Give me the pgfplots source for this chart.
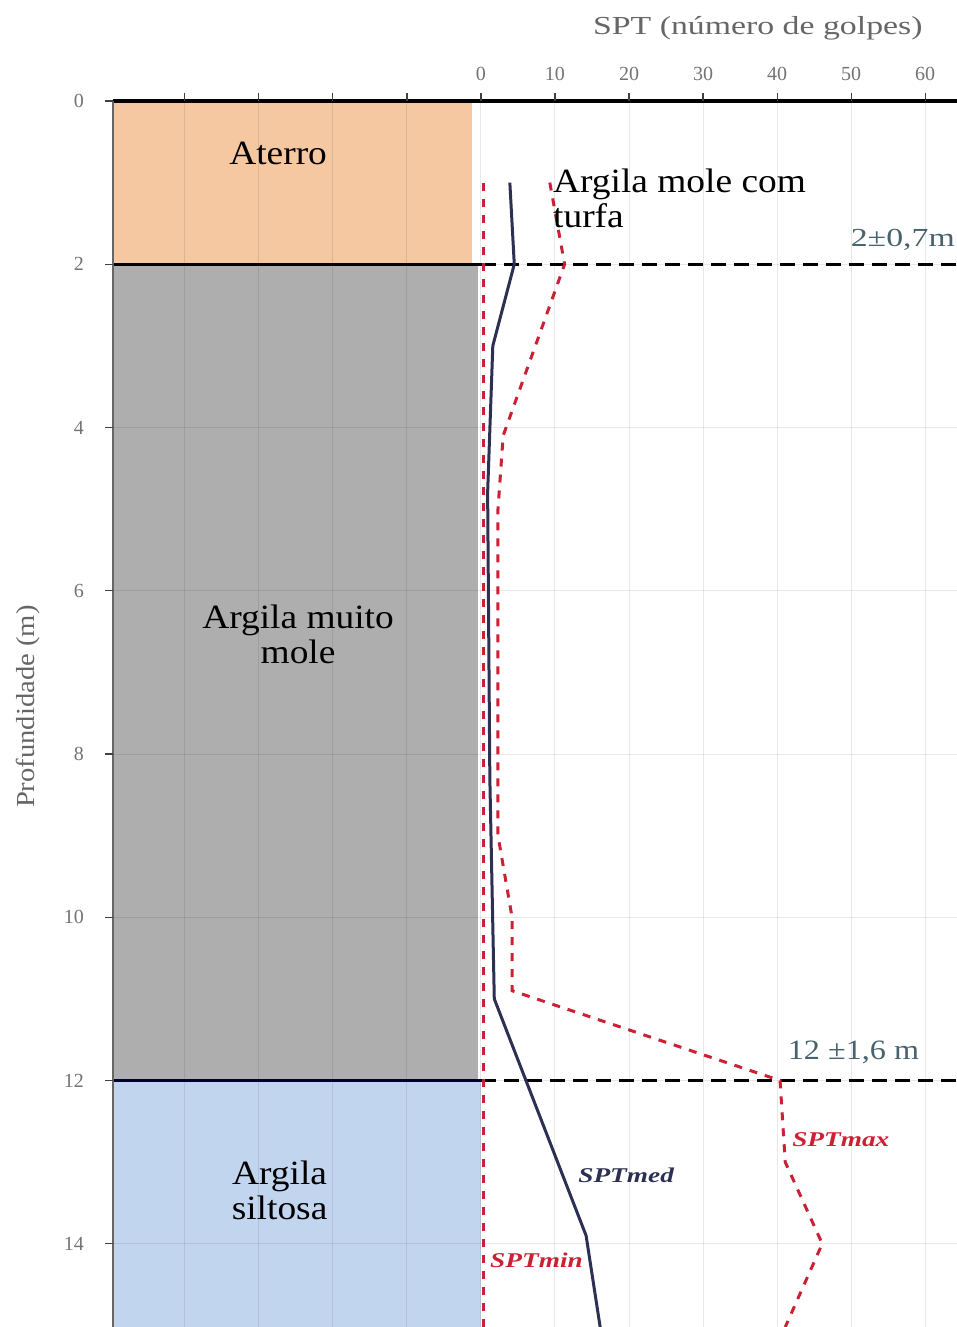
\documentclass[border=0pt]{standalone}
\usepackage{fontspec}
\setmainfont{Liberation Serif}
\newfontfamily\wide[FakeStretch=1.1]{Liberation Serif}
\newfontfamily\midwide[FakeStretch=1.15]{Liberation Serif}
\newfontfamily\wider[FakeStretch=1.3]{Liberation Serif}
\usepackage{pgfplots}
\pgfplotsset{compat=1.18}
\definecolor{peach}{RGB}{245,200,162}
\definecolor{claygray}{RGB}{174,174,174}
\definecolor{siltblue}{RGB}{194,213,238}
\definecolor{sptred}{RGB}{204,32,52}
\definecolor{sptnavy}{RGB}{44,48,82}
\definecolor{annot}{RGB}{72,98,110}
\begin{document}
\begin{tikzpicture}
\begin{axis}[
  at={(0pt,0pt)}, anchor=south west,
  width=422pt, height=613pt, scale only axis,
  xmin=-49.7, xmax=64.3, ymin=0, ymax=15.02, y dir=reverse,
  axis line style={draw=none},
  xtick={-40,-30,...,60}, xticklabels={,,,,0,10,20,30,40,50,60},
  ytick={0,2,...,14},
  xtick pos=upper, xticklabel pos=upper, ytick pos=left,
  tick align=outside, major tick length=4pt,
  tick style={black!75, line width=0.6pt},
  tick label style={font=\fontsize{10}{12}\selectfont, text=black!55},
  xticklabel style={yshift=2.5pt},
  yticklabel style={xshift=-7pt},
  /pgf/number format/assume math mode=true,
  grid=major, major grid style={draw=black, draw opacity=0.09, line width=0.5pt},
  axis on top,
  clip mode=individual,
]
% soil layers
\addplot[fill=peach, draw=none] coordinates {(-49.7,0) (-1.2,0) (-1.2,2) (-49.7,2)} -- cycle;
\addplot[fill=claygray, draw=none] coordinates {(-49.7,2) (-0.4,2) (-0.4,12) (-49.7,12)} -- cycle;
\addplot[fill=siltblue, draw=none] coordinates {(-49.7,12) (0,12) (0,15.02) (-49.7,15.02)} -- cycle;
% layer boundaries
\addplot[black, line width=1.5pt] coordinates {(-49.7,2) (0,2)};
\addplot[black!80!blue, line width=1.5pt] coordinates {(-49.7,12) (0,12)};
\addplot[black, line width=1.5pt, dash pattern=on 7.5pt off 4pt] coordinates {(0,2) (64.3,2)};
\addplot[black, line width=1.5pt, dash pattern=on 7.5pt off 4pt] coordinates {(0,12) (64.3,12)};
% SPT curves
\addplot[sptred, line width=1.5pt, dash pattern=on 4pt off 4pt] coordinates {(0.3,1) (0.3,15.02)};
\addplot[sptnavy, line width=1.5pt] coordinates {
  (3.9,1) (4.5,2) (1.6,3.0) (0.9,4.8) (1.2,8.3) (1.8,11) (14.2,13.9) (16.1,15.02)};
\addplot[sptred, line width=1.5pt, dash pattern=on 4pt off 4pt] coordinates {
  (9.3,1) (11.3,2) (3.0,4.1) (2.3,5) (2.3,9) (4.2,10) (4.2,10.9) (40.4,12) (41.1,13) (46.1,14) (41.1,15.02)};
% axis lines
\draw[black, line width=2pt] (axis cs:-49.7,0) -- (axis cs:64.3,0);
\draw[black!60, line width=0.8pt] (axis cs:-49.7,0) -- (axis cs:-49.7,15.02);
% labels
\node[font=\wider\fontsize{13}{15}\selectfont, text=black!60] at (axis cs:37.4,-0.894) {SPT (número de golpes)};
\node[font=\wide\fontsize{13}{15}\selectfont, text=black!60, rotate=90] at (axis cs:-61.2,7.42) {Profundidade (m)};
\node[font=\wide\fontsize{17}{17.5}\selectfont, align=center] at (axis cs:-27.4,0.64) {Aterro};
\node[font=\wide\fontsize{17}{17.5}\selectfont, align=center] at (axis cs:-24.7,6.54) {Argila muito\\mole};
\node[font=\wide\fontsize{17}{17.5}\selectfont, align=center] at (axis cs:-27.2,13.34) {Argila\\siltosa};
\node[font=\wide\fontsize{17}{17.5}\selectfont, align=left, anchor=west, inner sep=0pt] at (axis cs:9.7,1.19) {Argila mole com\\turfa};
\node[font=\wider\fontsize{13}{15}\selectfont, text=annot, anchor=west, inner sep=0pt] at (axis cs:49.9,1.70) {2±0,7m};
\node[font=\midwide\fontsize{14}{16}\selectfont, text=annot, anchor=west, inner sep=0pt] at (axis cs:41.4,11.65) {12 ±1,6 m};
\node[font=\wider\fontsize{10.5}{12}\selectfont\bfseries\itshape, text=sptred, anchor=west, inner sep=0pt] at (axis cs:42.0,12.73) {SPTmax};
\node[font=\wider\fontsize{10.5}{12}\selectfont\bfseries\itshape, text=sptnavy, anchor=west, inner sep=0pt] at (axis cs:13.1,13.16) {SPTmed};
\node[font=\wider\fontsize{10.5}{12}\selectfont\bfseries\itshape, text=sptred, anchor=west, inner sep=0pt] at (axis cs:1.2,14.2) {SPTmin};
\end{axis}
\pgfresetboundingbox
\useasboundingbox (-56.5pt,0pt) rectangle (422pt,663.5pt);
\end{tikzpicture}
\end{document}
